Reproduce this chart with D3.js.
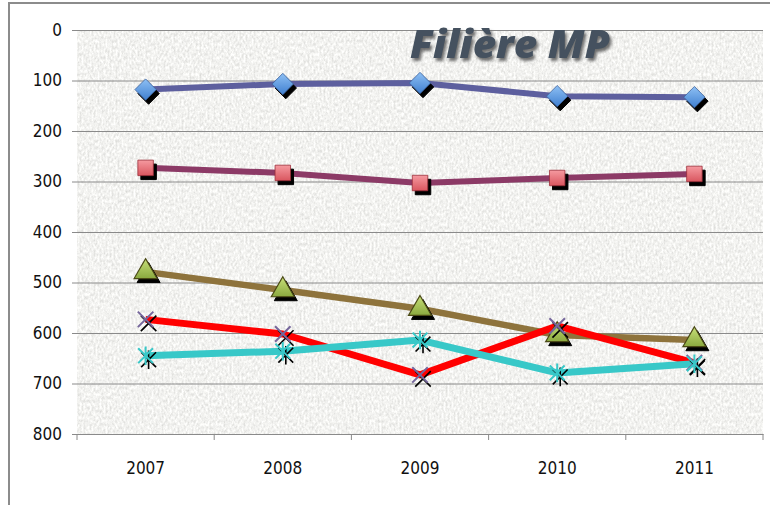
<!DOCTYPE html>
<html>
<head>
<meta charset="utf-8">
<script src="https://cdn.jsdelivr.net/npm/d3@7"></script>
<style>
  body { margin: 0; background: #fff; }
  svg { display: block; }
  .tick text { font-family: "DejaVu Sans Condensed", "Liberation Sans Narrow", sans-serif; font-stretch: condensed; font-size: 17px; fill: #111; }
</style>
</head>
<body>
<div id="chart"></div>
<script>
// data (rank, lower is better -> axis reversed)
const years = ["2007", "2008", "2009", "2010", "2011"];
const serieA = [118, 107, 105, 131, 133];   // diamonds
const serieB = [273, 283, 303, 293, 285];   // squares
const serieC = [479, 515, 552, 604, 614];   // triangles
const serieD = [573, 602, 683, 586, 659];   // x
const serieE = [645, 636, 614, 679, 661];   // asterisks
const yTicks = [0, 100, 200, 300, 400, 500, 600, 700, 800];
const title = "Filière MP";

const W = 770, H = 505;
const pLeft = 77, pRight = 763, pTop = 30, pBottom = 434;

const svg = d3.select("#chart").append("svg").attr("width", W).attr("height", H);
const defs = svg.append("defs");

// grainy grey background of the plot area
const noise = defs.append("filter").attr("id", "grain")
  .attr("filterUnits", "userSpaceOnUse")
  .attr("x", pLeft).attr("y", pTop).attr("width", pRight - pLeft).attr("height", pBottom - pTop);
noise.append("feTurbulence").attr("type", "fractalNoise")
  .attr("baseFrequency", "0.5 0.3").attr("numOctaves", 3).attr("seed", 4);
noise.append("feColorMatrix").attr("type", "matrix")
  .attr("values", "0.5 0 0 0 0.64  0.5 0 0 0 0.64  0.5 0 0 0 0.62  0 0 0 0 1");

const shadow = defs.append("filter").attr("id", "tshadow")
  .attr("x", "-10%").attr("y", "-10%").attr("width", "130%").attr("height", "140%");
shadow.append("feDropShadow").attr("dx", 2).attr("dy", 3).attr("stdDeviation", 1.5)
  .attr("flood-color", "#555").attr("flood-opacity", 0.85);

function grad(id, c1, c2) {
  const g = defs.append("linearGradient").attr("id", id)
    .attr("x1", 0).attr("y1", 0).attr("x2", 0).attr("y2", 1);
  g.append("stop").attr("offset", "0%").attr("stop-color", c1);
  g.append("stop").attr("offset", "100%").attr("stop-color", c2);
}
grad("gBlue", "#8ec0f4", "#3f7fd0");
grad("gPink", "#f59aa0", "#d9565f");
grad("gGreen", "#c8e07a", "#8aa83e");

// outer frame
svg.append("path").attr("d", `M9,${H} V3 H${W}`)
  .attr("fill", "none").attr("stroke", "#8c8c8c").attr("stroke-width", 2);

svg.append("rect").attr("x", pLeft).attr("y", pTop)
  .attr("width", pRight - pLeft).attr("height", pBottom - pTop)
  .attr("fill", "#e0e0dc").attr("filter", "url(#grain)");

const x = d3.scaleBand().domain(years).range([pLeft, pRight]);
const y = d3.scaleLinear().domain([0, 800]).range([pTop, pBottom]);

// gridlines + y labels
svg.append("g").attr("transform", `translate(${pLeft},0)`)
  .call(d3.axisLeft(y).tickValues(yTicks).tickSizeInner(-(pRight - pLeft)).tickSizeOuter(0).tickFormat(""))
  .call(g => g.select(".domain").remove())
  .call(g => g.selectAll("line").attr("stroke", "#8a8a8a"));
svg.append("g").attr("transform", `translate(${pLeft},0)`)
  .call(d3.axisLeft(y).tickValues(yTicks).tickSize(5).tickPadding(10))
  .call(g => g.select(".domain").remove())
  .call(g => g.selectAll("line").attr("stroke", "#8a8a8a"));

// x axis: labels centred in bands, tick marks on band edges
svg.append("g").attr("transform", `translate(0,${pBottom})`)
  .call(d3.axisBottom(x).tickSize(0).tickPadding(28).tickSizeOuter(0))
  .call(g => g.select(".domain").attr("stroke", "#8a8a8a"));
svg.append("g").selectAll("line")
  .data(years.map(d => x(d)).concat([pRight]))
  .join("line")
  .attr("x1", d => d).attr("x2", d => d)
  .attr("y1", pBottom).attr("y2", pBottom + 6)
  .attr("stroke", "#8a8a8a");

// marker shapes
const diamond = { draw(p, s) { const r = Math.sqrt(s) / 1.45; p.moveTo(0, -r); p.lineTo(r, 0); p.lineTo(0, r); p.lineTo(-r, 0); p.closePath(); } };
const cross = { draw(p, s) { const r = Math.sqrt(s) / 2; p.moveTo(-r, -r); p.lineTo(r, r); p.moveTo(r, -r); p.lineTo(-r, r); } };
const star = { draw(p, s) { const r = Math.sqrt(s) / 2; p.moveTo(-r, -r); p.lineTo(r, r); p.moveTo(r, -r); p.lineTo(-r, r); p.moveTo(0, -r * 1.25); p.lineTo(0, r * 1.25); } };

const series = [
  { values: serieA, line: "#5d5f9e", lw: 6, type: diamond, size: 240, fill: "url(#gBlue)", stroke: "#3a5f9a", sw: 0.8 },
  { values: serieB, line: "#8c3a66", lw: 6, type: d3.symbolSquare, size: 240, fill: "url(#gPink)", stroke: "#9b2f3a", sw: 0.8 },
  { values: serieC, line: "#8e733c", lw: 6.5, type: d3.symbolTriangle, size: 230, fill: "url(#gGreen)", stroke: "#4b4a16", sw: 1.2 },
  { values: serieD, line: "#ff0000", lw: 7, type: cross, size: 240, fill: "none", stroke: "#76679c", sw: 2 },
  { values: serieE, line: "#38c8c8", lw: 7, type: star, size: 220, fill: "none", stroke: "#38c8c8", sw: 2 }
];

const line = d3.line().x((d, i) => x(years[i]) + x.bandwidth() / 2).y(d => y(d));

series.forEach(s => {
  svg.append("path").datum(s.values)
    .attr("d", line).attr("fill", "none")
    .attr("stroke", s.line).attr("stroke-width", s.lw).attr("stroke-linejoin", "round");
});

series.forEach(s => {
  const sym = d3.symbol().type(s.type).size(s.size);
  const g = svg.append("g");
  // black drop shadow under each marker
  g.selectAll(".sh").data(s.values).join("path")
    .attr("transform", (d, i) => `translate(${x(years[i]) + x.bandwidth() / 2 + 3},${y(d) + 4})`)
    .attr("d", sym)
    .attr("fill", s.fill === "none" ? "none" : "#000")
    .attr("stroke", "#000").attr("stroke-width", s.fill === "none" ? 1.6 : 1);
  g.selectAll(".mk").data(s.values).join("path")
    .attr("transform", (d, i) => `translate(${x(years[i]) + x.bandwidth() / 2},${y(d)})`)
    .attr("d", sym)
    .attr("fill", s.fill).attr("stroke", s.stroke).attr("stroke-width", s.sw);
});

svg.append("text")
  .attr("x", 510).attr("y", 58)
  .attr("text-anchor", "middle")
  .attr("textLength", 200).attr("lengthAdjust", "spacingAndGlyphs")
  .attr("font-family", "'Open Sans', 'DejaVu Sans', sans-serif")
  .attr("font-weight", 800).attr("font-style", "italic")
  .attr("font-size", 38).attr("fill", "#44515e")
  .attr("filter", "url(#tshadow)")
  .text(title);
</script>
</body>
</html>
